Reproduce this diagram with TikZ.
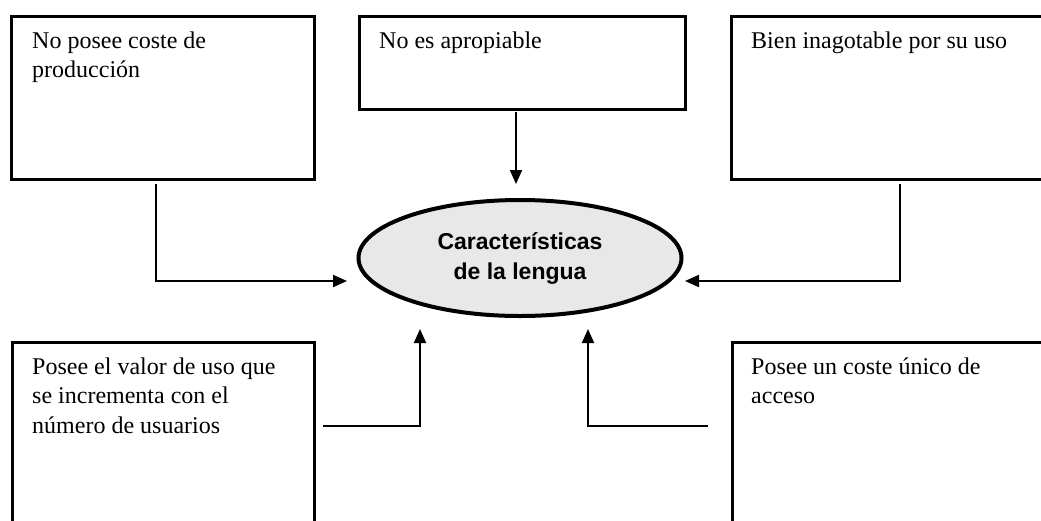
\documentclass[tikz,border=0pt]{standalone}
\usepackage{fontspec}
\setmainfont{Liberation Serif}
\newfontfamily\ellfont{Liberation Sans}
\usetikzlibrary{arrows.meta,shapes.geometric}
\begin{document}
\begin{tikzpicture}[x=1pt,y=-1pt,
  boxst/.style={draw, line width=2.6pt, inner sep=0pt, anchor=north west},
  txtst/.style={anchor=north west, inner sep=0pt, align=left,
    font=\fontsize{24}{29.5}\selectfont},
  conn/.style={line width=2pt},
  arr/.style={line width=2pt, -{Triangle[length=14pt,width=12pt]}},
  ellst/.style={ellipse, draw, line width=4pt, fill=black!9,
    minimum width=323pt, minimum height=116pt, inner sep=0pt, align=center,
    font=\ellfont\bfseries\fontsize{23}{30}\selectfont}]
\useasboundingbox (0,0) rectangle (1041,520);
\fill[white] (0,0) rectangle (1041,520);
% boxes
\node[boxst, minimum width=303pt, minimum height=163pt] (b1) at (10,15) {};
\node[boxst, minimum width=326pt, minimum height=93pt] (b2) at (358,15) {};
\node[boxst, minimum width=330pt, minimum height=163pt] (b3) at (730,15) {};
\node[boxst, minimum width=302pt, minimum height=200pt] (b4) at (11,341) {};
\node[boxst, minimum width=330pt, minimum height=200pt] (b5) at (731,341) {};
% texts
\node[txtst] (t1) at (32,31.5) {No posee coste de\\producción};
\node[txtst] (t2) at (379,31.5) {No es apropiable};
\node[txtst] (t3) at (751,31.5) {Bien inagotable por su uso};
\node[txtst] (t4) at (32,357.5) {Posee el valor de uso que\\se incrementa con el\\número de usuarios};
\node[txtst] (t5) at (751,357.5) {Posee un coste único de\\acceso};
% ellipse
\node[ellst] (e) at (520,258) {Características\\de la lengua};
% connector end points
\coordinate (s1) at (156,184);
\coordinate (k1) at (156,281);
\coordinate (p1) at (347,281);
\coordinate (s2) at (516,112);
\coordinate (p2) at (516,184);
\coordinate (s3) at (900,184);
\coordinate (k3) at (900,281);
\coordinate (p3) at (685,281);
\coordinate (s4) at (323,426);
\coordinate (k4) at (420,426);
\coordinate (p4) at (420,329);
\coordinate (s5) at (708,426);
\coordinate (k5) at (588,426);
\coordinate (p5) at (588,329);
% connectors
\draw[arr] (s1) -- (k1) -- (p1);
\draw[arr] (s2) -- (p2);
\draw[arr] (s3) -- (k3) -- (p3);
\draw[arr] (s4) -- (k4) -- (p4);
\draw[arr] (s5) -- (k5) -- (p5);
\end{tikzpicture}
\end{document}
